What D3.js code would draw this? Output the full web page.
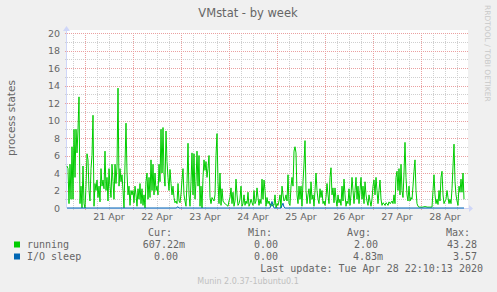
<!DOCTYPE html>
<html>
<head>
<meta charset="utf-8">
<script src="https://cdn.jsdelivr.net/npm/d3@7"></script>
<style>
  body { margin: 0; background: #f0f0f0; }
  svg { display: block; }
  text { fill: #666; }
</style>
</head>
<body>
<svg id="chart" width="497" height="292"></svg>
<script>
// munin vmstat, week view: one sample per 30 minutes, starting 20 Apr 15:00
const startTime = new Date(2020, 3, 20, 15, 0);
const stepMinutes = 30;

const running = [
  4.8, 4.5, 0.5, 5, 1, 7, 1, 9, 3.5, 9, 6.3,
  9, 12.7, 0.5, 2.5, 0, 4.8, 0.5, 0, 2.5, 6.2,
  5.5, 2, 0.8, 4.5, 6, 10.6, 0.2, 2.8, 2, 3.2,
  1.2, 2.5, 0.7, 4.5, 2.5, 3.2, 2.2, 6.5, 2, 3.5,
  0.8, 4.5, 2.5, 1.2, 5, 3, 1, 5, 2.8, 4.8,
  13.7, 2.5, 4.5, 3, 3.8, 2, 0, 5, 9.7, 4, 1.5,
  2.5, 0.3, 2, 1.5, 2, 0.6, 2.5, 1.5, 0.2, 2.2,
  1, 2.8, 0.5, 2.2, 0.3, 1.5, 0, 3, 4, 1,
  3.5, 1.2, 5.5, 2, 5, 1.5, 4, 2, 2.5, 1.5,
  5, 3, 9, 4, 9.2, 4, 2.5, 8.8, 5.3, 3.5, 2,
  4.4, 2.8, 1.5, 2.5, 1.2, 0.6, 0.8, 0.5, 2.8, 0.8,
  0.6, 1.6, 3.2, 4.5, 1.5, 0.8, 0.2, 2.8, 7.4, 1.5,
  0.2, 3, 6.3, 1.5, 6.2, 1, 3, 6.5, 2.5, 6,
  0.2, 2.5, 0, 3.5, 5.5, 4.3, 5.3, 3.5, 4.5, 6,
  1.2, 0.5, 1.2, 1, 0.8, 1.5, 6, 8.5, 3, 0.5,
  4, 0.3, 2.2, 0.8, 0.6, 0.5, 0.4, 0.3, 0.2, 0.8,
  1.2, 2.3, 0.5, 1.8, 0.2, 0.8, 3.3, 1.5, 0.3, 0.5,
  1, 2.5, 0.2, 0.5, 1.5, 0.3, 0.8, 0.5, 1.8, 0.2,
  // 24 Apr onwards
  0.5, 1, 0.6, 0.3, 2, 0.5, 0.8, 2.3, 1.2, 0.3, 1, 0.5, 3.3, 1, 3.2, 2, 0.2, 1.2, 0.5, 0.8, 0.3, 0.5,
  0.2, 0.4, 0.3, 1.5, 0, 0.5, 0.3, 0.8, 1.5, 0,
  2.5, 1.5, 0.8, 1, 1.5, 0.8, 3.8, 0.5, 0.3, 2.5,
  3.5, 2.5, 6.5, 7, 6.3, 1.5, 0.5, 2.5, 1, 2.5,
  0.2, 3, 5, 7.7, 2, 0.5, 1.5, 2.2, 0.5, 3,
  1, 1.5, 0.2, 2, 4, 2, 1, 0.5, 2.2, 1.2,
  2, 0.5, 0.8, 0.3, 1.2, 2.8, 1.5, 0.5, 3.5, 4.6,
  1.5, 2.3, 0.6, 2.3, 1, 0.2, 1.5, 0.6, 1, 0.3,
  2.5, 0.8, 3.3, 1.5, 0.2, 0.8, 0.5, 2.2, 0.3, 1.5,
  3.5, 2, 0.5, 2, 3.5, 1, 2.5, 0.5, 2, 3.5,
  1, 2.5, 0.5, 3, 1.5, 0.8, 0.3, 1.5, 0.8, 0.2,
  1, 2.5, 3.2, 1.5, 3.5, 2, 0.5, 2, 3.2, 1,
  0.3, 0.6, 0.5, 0.3, 0.6, 0.5, 0.3, 0.7, 0.5, 0.6,
  0.8, 0.5, 1.5, 0.5, 3.5, 4.2, 2, 4.5, 1.5, 5,
  2, 1.2, 4, 7.5, 3.5, 1.5, 0.8, 2.5, 0.8, 1.2,
  1, 2.5, 4.2, 5.5, 2, 0.5, 0.2, 0.1, 0.1, 0.1,
  0.1, 0.1, 0.15, 0.15, 0.15, 0.1, 0.1, 0.1, 0.1, 0.1,
  0.1, 2, 3.8, 1.5, 0.5, 1, 0.4, 2, 0.8, 3.5,
  4.2, 1.5, 0.5, 0.8, 1, 2, 1.2, 0.5, 1, 0.5,
  2.2, 4.8, 7.3, 3, 1.5, 0.8, 0.3, 2.5, 1.8, 3.3,
  1.8, 4, 1
];

// 398 samples, nearly all zero
const ioSleep = [
  0, 0, 0, 0, 0, 0, 0, 0, 0, 0, 0, 0, 0, 0, 0, 0, 0, 0, 0, 0,
  0, 0, 0, 0, 0, 0, 0, 0, 0, 0, 0, 0, 0, 0, 0, 0, 0, 0, 0, 0,
  0, 0, 0, 0, 0, 0, 0, 0, 0, 0, 0, 0, 0, 0, 0, 0, 0, 0, 0, 0,
  0, 0, 0, 0, 0, 0, 0, 0, 0, 0, 0, 0, 0, 0, 0, 0, 0, 0, 0, 0,
  0, 0, 0, 0, 0, 0, 0, 0, 0, 0, 0, 0, 0, 0, 0, 0, 0, 0, 0, 0,
  0, 0, 0, 0, 0, 0, 0, 0, 0, 0, 0.05, 0.15, 0, 0, 0, 0, 0, 0, 0, 0,
  0, 0, 0, 0, 0, 0, 0, 0, 0, 0, 0, 0, 0, 0, 0, 0, 0, 0, 0, 0,
  0, 0, 0, 0, 0, 0, 0, 0, 0, 0, 0, 0, 0, 0, 0, 0, 0, 0, 0, 0,
  0, 0, 0, 0, 0, 0, 0, 0, 0, 0, 0, 0, 0, 0, 0, 0, 0, 0, 0, 0,
  0, 0, 0, 0, 0, 0, 0, 0, 0, 0, 0, 0, 0, 0, 0, 0, 0, 0, 0, 0,
  0, 0, 0, 0, 0.4, 0.75, 0.3, 0, 0, 0, 0, 0, 0, 0, 0, 0.3, 0.55, 0.1, 0, 0,
  0, 0, 0, 0, 0, 0, 0, 0, 0, 0, 0, 0, 0, 0, 0, 0, 0, 0, 0, 0,
  0, 0, 0, 0, 0, 0, 0, 0, 0, 0, 0, 0, 0, 0, 0, 0, 0, 0, 0, 0,
  0, 0, 0, 0, 0, 0, 0, 0, 0, 0, 0, 0, 0, 0, 0, 0, 0, 0, 0, 0,
  0, 0, 0, 0, 0, 0, 0, 0, 0, 0, 0, 0, 0, 0, 0, 0, 0, 0, 0, 0,
  0, 0, 0, 0, 0, 0, 0, 0, 0, 0, 0, 0, 0, 0, 0, 0, 0, 0, 0, 0,
  0, 0, 0, 0, 0, 0, 0, 0, 0, 0, 0, 0, 0, 0, 0, 0, 0, 0, 0, 0,
  0, 0, 0, 0, 0, 0, 0, 0, 0, 0, 0, 0, 0, 0, 0, 0, 0, 0, 0, 0,
  0, 0, 0, 0, 0, 0, 0, 0, 0, 0, 0, 0, 0, 0, 0, 0, 0, 0, 0, 0,
  0, 0, 0, 0, 0, 0, 0, 0, 0, 0, 0, 0, 0, 0, 0, 0, 0, 0
];

const yTicks = [0, 2, 4, 6, 8, 10, 12, 14, 16, 18, 20];

const legendHeader = ['Cur:', 'Min:', 'Avg:', 'Max:'];
const legendRows = [
  { name: 'running', color: '#00cc00', values: ['607.22m', '0.00', '2.00', '43.28'] },
  { name: 'I/O sleep', color: '#0066b3', values: ['0.00', '0.00', '4.83m', '3.57'] }
];
const lastUpdate = 'Last update: Tue Apr 28 22:10:13 2020';

const times = running.map((d, i) => new Date(startTime.getTime() + i * stepMinutes * 60000));

const svg = d3.select('#chart');
const plotLeft = 67, plotRight = 468, plotTop = 33, plotBottom = 208;

const x = d3.scaleTime()
  .domain([startTime, new Date(startTime.getTime() + (plotRight - plotLeft) * stepMinutes * 60000)])
  .range([plotLeft, plotRight]);
const y = d3.scaleLinear().domain([0, 20]).range([plotBottom, plotTop]);

const px = v => Math.round(v) + 0.5;

// canvas
svg.append('rect').attr('x', plotLeft).attr('y', 30).attr('width', plotRight - plotLeft).attr('height', plotBottom - 30).attr('fill', '#fff');

const grid = svg.append('g').attr('shape-rendering', 'crispEdges').attr('stroke-width', 1).attr('stroke-dasharray', '1,1');

// minor grid
const minorX = d3.timeHour.every(6).range(x.domain()[0], x.domain()[1]).filter(t => t.getHours() !== 0);
grid.selectAll('.vmin').data(minorX).join('line')
  .attr('x1', d => px(x(d))).attr('x2', d => px(x(d)))
  .attr('y1', plotTop).attr('y2', plotBottom + 2)
  .attr('stroke', '#cfcfcf');
const minorY = d3.range(1, 20, 2);
grid.selectAll('.hmin').data(minorY).join('line')
  .attr('x1', plotLeft - 2).attr('x2', plotRight)
  .attr('y1', d => px(y(d))).attr('y2', d => px(y(d)))
  .attr('stroke', '#cfcfcf');

// major grid
const days = d3.timeDay.range(x.domain()[0], x.domain()[1]);
grid.selectAll('.vmaj').data(days).join('line')
  .attr('x1', d => px(x(d))).attr('x2', d => px(x(d)))
  .attr('y1', plotTop).attr('y2', plotBottom + 3)
  .attr('stroke', '#eaa0a0');
grid.selectAll('.hmaj').data(yTicks.slice(1)).join('line')
  .attr('x1', plotLeft - 2).attr('x2', plotRight)
  .attr('y1', d => px(y(d))).attr('y2', d => px(y(d)))
  .attr('stroke', '#eaa0a0');

// axes
const axisColor = '#cfd6f8';
svg.append('line').attr('x1', plotLeft).attr('x2', plotRight + 2).attr('y1', px(plotBottom)).attr('y2', px(plotBottom))
  .attr('stroke', axisColor).attr('shape-rendering', 'crispEdges');
svg.append('line').attr('x1', px(plotLeft - 1)).attr('x2', px(plotLeft - 1)).attr('y1', plotBottom).attr('y2', plotTop - 3)
  .attr('stroke', axisColor).attr('shape-rendering', 'crispEdges');
svg.append('path').attr('d', `M${plotRight + 1},${plotBottom - 3}L${plotRight + 5},${plotBottom + 0.5}L${plotRight + 1},${plotBottom + 4}Z`).attr('fill', axisColor);
svg.append('path').attr('d', `M${plotLeft - 4},${plotTop - 2}L${plotLeft - 0.5},${plotTop - 7}L${plotLeft + 3},${plotTop - 2}Z`).attr('fill', axisColor);

// series
const line = d3.line().x((d, i) => x(times[i])).y(d => y(d));
svg.append('path').datum(running).attr('d', line)
  .attr('fill', 'none').attr('stroke', '#00cc00').attr('stroke-width', 1);
svg.append('path').datum(ioSleep).attr('d', line)
  .attr('fill', 'none').attr('stroke', '#0066b3').attr('stroke-width', 1);

// tick labels
const sans = 'DejaVu Sans, sans-serif';
const mono = 'DejaVu Sans Mono, monospace';
svg.append('g').selectAll('text').data(yTicks).join('text')
  .attr('x', 60).attr('y', d => y(d) + 3.5)
  .attr('text-anchor', 'end').attr('font-family', sans).attr('font-size', 9.5)
  .text(d => d);
svg.append('g').selectAll('text').data(days.slice(0, 8)).join('text')
  .attr('x', d => x(d3.timeHour.offset(d, 12))).attr('y', 220)
  .attr('text-anchor', 'middle').attr('font-family', sans).attr('font-size', 9.5)
  .text(d3.timeFormat('%d %b'));

// titles
svg.append('text').attr('x', 248).attr('y', 17).attr('text-anchor', 'middle')
  .attr('font-family', sans).attr('font-size', 11.5).text('VMstat - by week');
svg.append('text').attr('transform', 'translate(15,118) rotate(-90)').attr('text-anchor', 'middle')
  .attr('font-family', sans).attr('font-size', 10.5).text('process states');
svg.append('text').attr('transform', 'translate(485,5) rotate(90)')
  .attr('font-family', sans).attr('font-size', 7.5).style('fill', '#c8c8c8').text('RRDTOOL / TOBI OETIKER');

// legend
const colEnd = [172, 272, 371, 470];
svg.append('g').selectAll('text').data(legendHeader).join('text')
  .attr('x', (d, i) => colEnd[i]).attr('y', 236).attr('text-anchor', 'end')
  .attr('font-family', mono).attr('font-size', 10).text(d => d);

const valEnd = [[185, 278, 378, 477], [178, 278, 383, 477]];
legendRows.forEach((row, r) => {
  const by = 247.5 + r * 12;
  svg.append('rect').attr('x', 14).attr('y', by - 6).attr('width', 6).attr('height', 6).attr('fill', row.color);
  svg.append('text').attr('x', 27).attr('y', by).attr('font-family', mono).attr('font-size', 10)
    .text(row.name);
  row.values.forEach((v, i) => {
    svg.append('text').attr('x', valEnd[r][i]).attr('y', by).attr('text-anchor', 'end')
      .attr('font-family', mono).attr('font-size', 10).text(v);
  });
});

svg.append('text').attr('x', 483).attr('y', 271.5).attr('text-anchor', 'end')
  .attr('font-family', mono).attr('font-size', 10).text(lastUpdate);
svg.append('text').attr('x', 248).attr('y', 284).attr('text-anchor', 'middle')
  .attr('font-family', sans).attr('font-size', 8).style('fill', '#c0c0c0').text('Munin 2.0.37-1ubuntu0.1');
</script>
</body>
</html>
